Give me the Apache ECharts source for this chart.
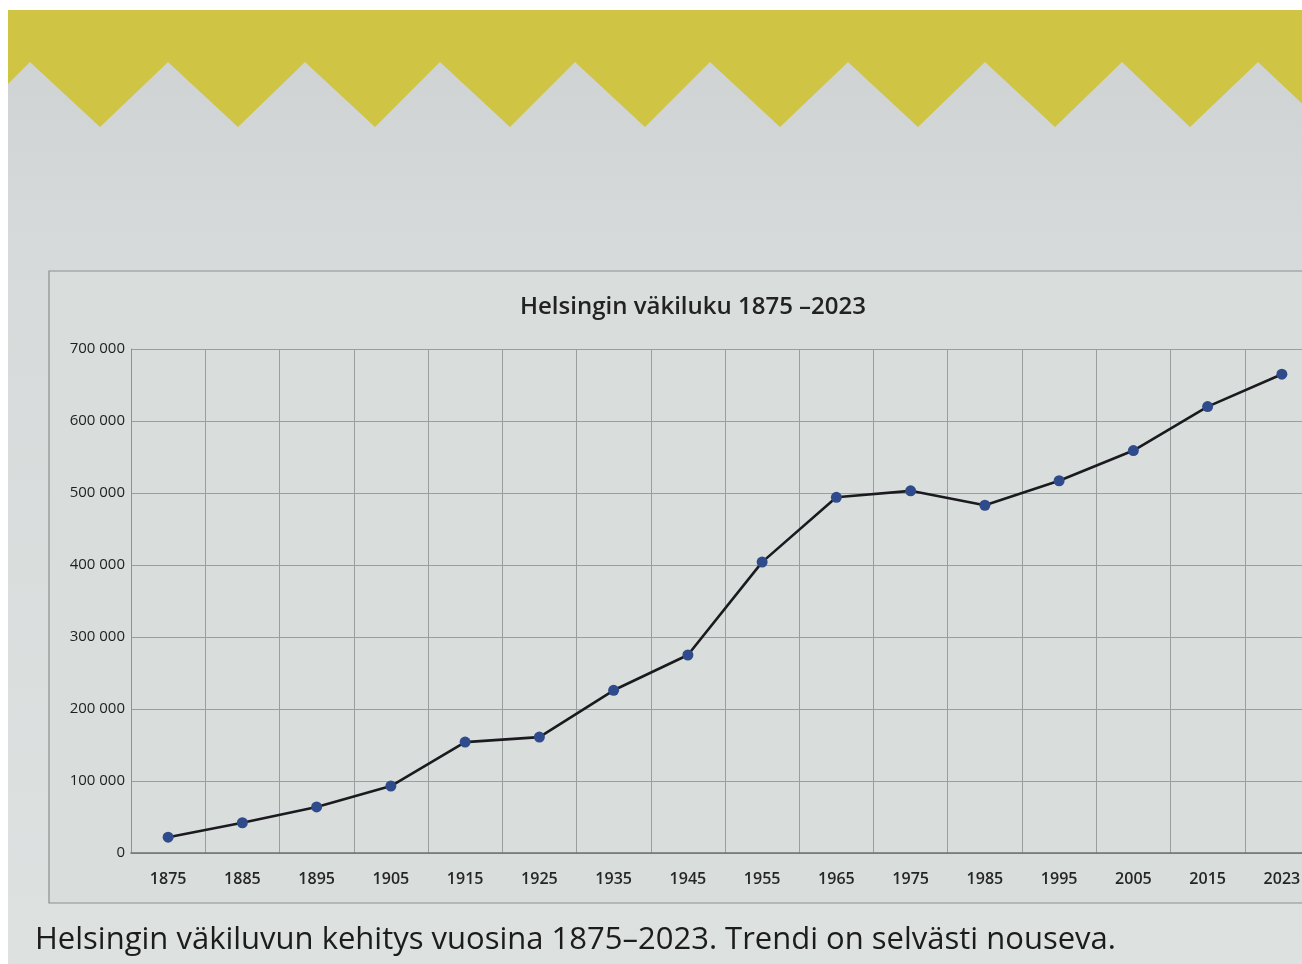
<!DOCTYPE html>
<html>
<head>
<meta charset="utf-8">
<title>Helsingin väkiluku 1875–2023</title>
<script src="https://cdn.jsdelivr.net/npm/echarts@6/dist/echarts.min.js"></script>
<style>
  html, body { margin: 0; padding: 0; background: #ffffff; overflow: hidden; }
  #chart-container { width: 1340px; height: 964px; }
</style>
</head>
<body>
<div id="chart-container"></div>
<script>
var years = ["1875", "1885", "1895", "1905", "1915", "1925", "1935", "1945",
  "1955", "1965", "1975", "1985", "1995", "2005", "2015", "2023"];
var population = [22000, 42000, 64000, 93000, 154000, 161000, 226000, 275000,
  404000, 494000, 503000, 483000, 517000, 559000, 620000, 665000];
var yMax = 700000;
var yStep = 100000;

var chartTitle = "Helsingin väkiluku 1875 –2023";
var caption = "Helsingin väkiluvun kehitys vuosina 1875–2023. Trendi on selvästi nouseva.";

// zigzag edge of the yellow band
var zig = [[8, 84], [30, 62], [100, 127], [168, 62], [238, 127], [305, 62], [375, 127],
  [440, 62], [510, 127], [575, 62], [645, 127], [710, 62], [780, 127], [848, 62],
  [918, 127], [985, 62], [1055, 127], [1122, 62], [1190, 127], [1258, 62], [1327, 127],
  [1340, 110]];
var bandPoints = [[8, 10], [1340, 10]].concat(zig.slice().reverse());

function fmt(v) {
  return String(v).replace(/\B(?=(\d{3})+(?!\d))/g, " ");
}

var dom = document.getElementById("chart-container");
var myChart = echarts.init(dom, null, { renderer: "canvas" });
var option;

option = {
  animation: false,
  backgroundColor: "#ffffff",
  graphic: [
    {
      type: "rect", z: -10, silent: true,
      shape: { x: 8, y: 10, width: 1340, height: 960 },
      style: {
        fill: new echarts.graphic.LinearGradient(0, 0, 0, 1, [
          { offset: 0, color: "#cdd1d1" },
          { offset: 0.25, color: "#d6dada" },
          { offset: 1, color: "#dde1e0" }
        ])
      }
    },
    {
      type: "polygon", z: -9, silent: true,
      shape: { points: bandPoints },
      style: { fill: "#cfc443" }
    },
    {
      type: "rect", z: -8, silent: true,
      shape: { x: 49, y: 271, width: 1282, height: 632 },
      style: { fill: "#d9dddc", stroke: "#8c8f8f", lineWidth: 1.2 }
    },
    {
      type: "text", z: 10,
      style: {
        x: 693, y: 307, text: chartTitle, align: "center", verticalAlign: "middle",
        font: "600 24px 'Open Sans', sans-serif", fill: "#222222"
      }
    },
    {
      type: "text", z: 10,
      style: {
        x: 35, y: 940, text: caption, align: "left", verticalAlign: "middle",
        font: "31px 'Open Sans', sans-serif", fill: "#1c1c1c"
      }
    }
  ],
  grid: { left: 131, right: 21, top: 349, bottom: 111 },
  xAxis: {
    type: "category",
    data: years,
    boundaryGap: true,
    axisLine: { show: true, lineStyle: { color: "#6f7272", width: 1.5 } },
    axisTick: { show: false },
    axisLabel: {
      color: "#262626", fontSize: 16, margin: 18,
      fontFamily: "'Open Sans', sans-serif", fontWeight: 600
    },
    splitLine: { show: true, interval: 0, lineStyle: { color: "#9b9e9e", width: 1 } }
  },
  yAxis: {
    type: "value",
    min: 0,
    max: yMax,
    interval: yStep,
    axisLine: { show: true, lineStyle: { color: "#8e9191", width: 1 } },
    axisTick: { show: false },
    axisLabel: {
      color: "#1f1f1f", fontSize: 15, margin: 6,
      fontFamily: "'Open Sans', sans-serif",
      formatter: fmt
    },
    splitLine: { show: true, lineStyle: { color: "#9b9e9e", width: 1 } }
  },
  series: [
    {
      type: "line",
      data: population,
      symbol: "circle",
      symbolSize: 11,
      itemStyle: { color: "#2f4b8c" },
      lineStyle: { color: "#1b1b1f", width: 2.6 },
      z: 5
    }
  ]
};

if (option && typeof option === "object") {
  myChart.setOption(option);
}

window.addEventListener("resize", myChart.resize);
</script>
</body>
</html>
